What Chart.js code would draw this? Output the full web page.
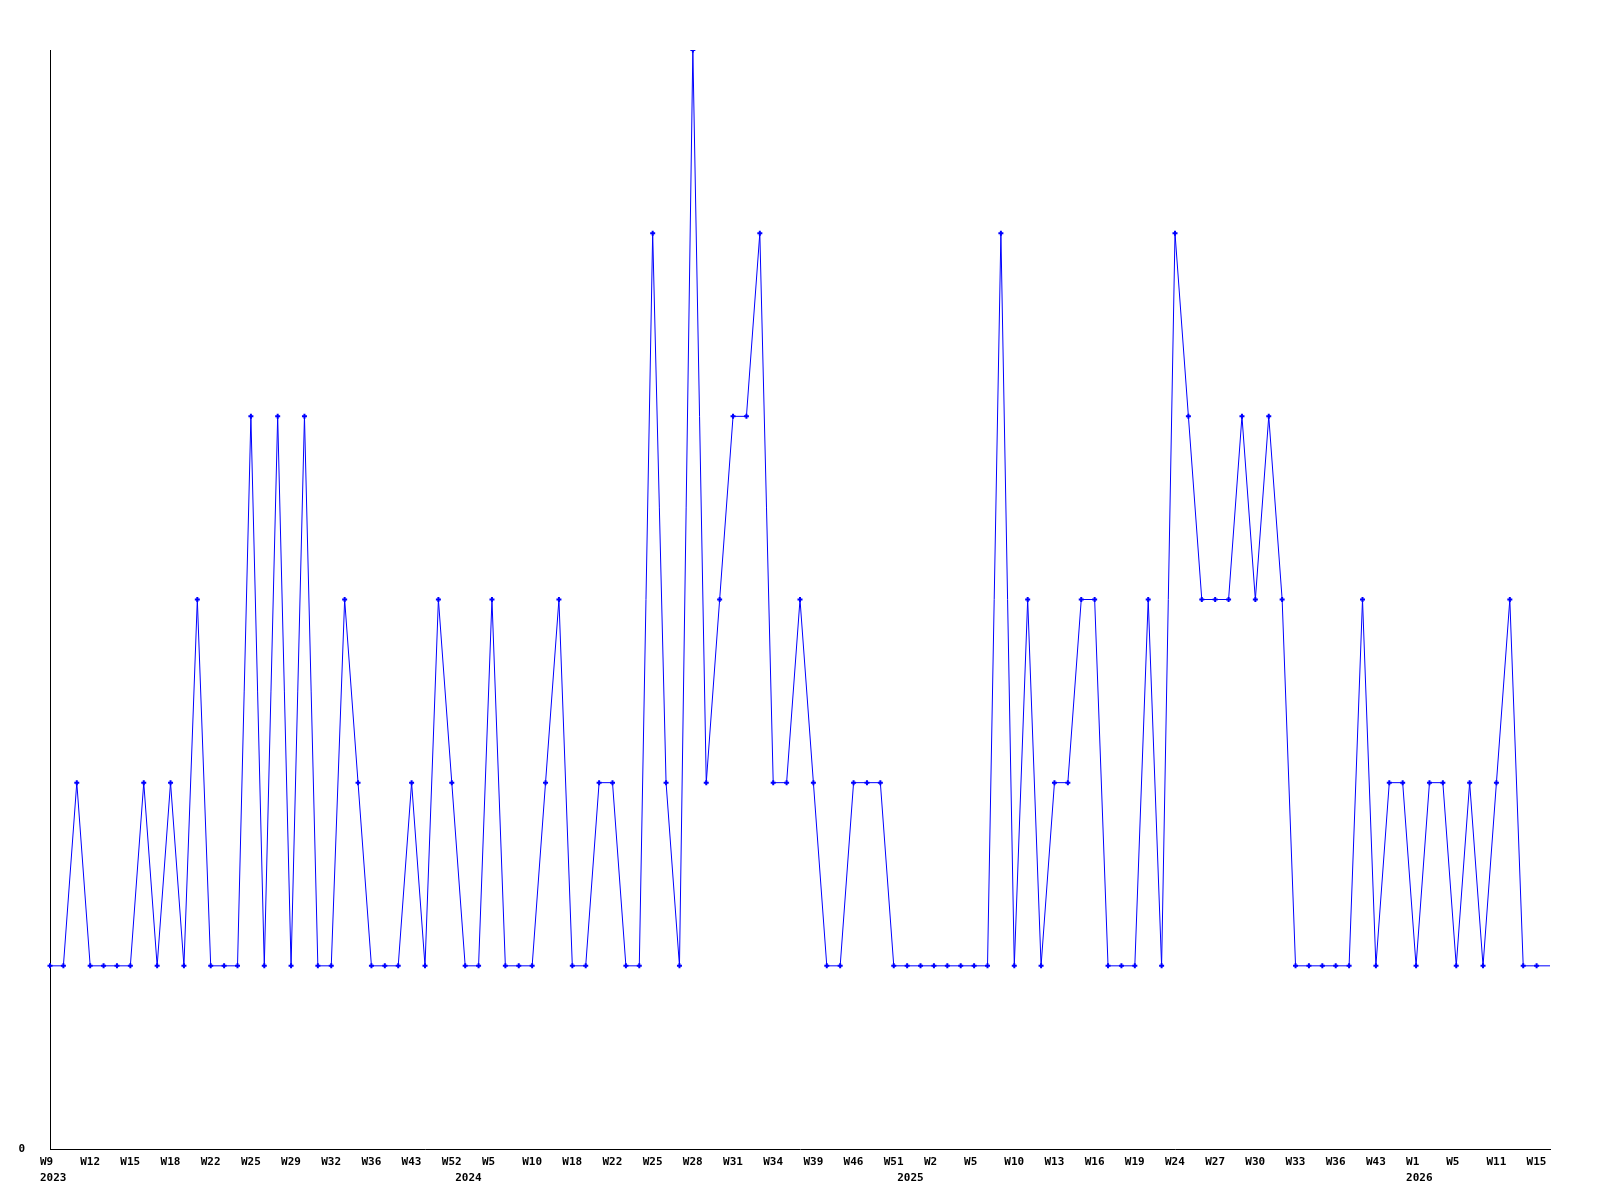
<!DOCTYPE html>
<html><head><meta charset="utf-8">
<script src="https://cdn.jsdelivr.net/npm/chart.js@4/dist/chart.umd.min.js"></script>
<style>html,body{margin:0;padding:0;background:#fff;} #wrap{width:1600px;height:1200px;}</style>
</head><body><div id="wrap"><canvas id="c" width="1600" height="1200"></canvas></div>
<script>
const weeks = [
  'W9','W10','W11','W12','W13','W14','W15','W16','W17','W18',
  'W19','W20','W22','W23','W24','W25','W26','W27','W29','W30',
  'W31','W32','W33','W34','W36','W38','W40','W43','W46','W49',
  'W52','W1','W3','W5','W7','W8','W10','W13','W15','W18',
  'W20','W21','W22','W23','W24','W25','W26','W27','W28','W29',
  'W30','W31','W32','W33','W34','W36','W37','W39','W41','W44',
  'W46','W48','W49','W51','W0','W1','W2','W3','W4','W5',
  'W7','W9','W10','W11','W12','W13','W14','W15','W16','W17',
  'W18','W19','W21','W23','W24','W25','W26','W27','W28','W29',
  'W30','W31','W32','W33','W34','W35','W36','W38','W40','W43',
  'W47','W50','W1','W2','W3','W5','W7','W9','W11','W12',
  'W13','W15','W16'
];
const values = [
  1,1,2,1,1,1,1,2,1,2,
  1,3,1,1,1,4,1,4,1,4,
  1,1,3,2,1,1,1,2,1,3,
  2,1,1,3,1,1,1,2,3,1,
  1,2,2,1,1,5,2,1,6,2,
  3,4,4,5,2,2,3,2,1,1,
  2,2,2,1,1,1,1,1,1,1,
  1,5,1,3,1,2,2,3,3,1,
  1,1,3,1,5,4,3,3,3,4,
  3,4,3,1,1,1,1,1,3,1,
  2,2,1,2,2,1,2,1,2,3,
  1,1,1
];
const yearLabels = ['2023','2024','2025','2026'];
const yearIndex = [0,31,64,102];
const yTickLabels = {0:'0'};

const FONT = '"DejaVu Sans Mono", "Liberation Mono", monospace';

const yearPlugin = {
  id: 'years',
  afterDraw(chart) {
    const xs = chart.scales.x;
    const ctx = chart.ctx;
    ctx.save();
    ctx.font = 'bold 11px ' + FONT;
    ctx.fillStyle = '#000';
    ctx.textAlign = 'left';
    ctx.textBaseline = 'middle';
    yearLabels.forEach((lab, k) => {
      const x = xs.getPixelForValue(yearIndex[k]) - 10;
      ctx.fillText(lab, x, xs.top + 29);
    });
    ctx.restore();
  }
};

new Chart(document.getElementById('c'), {
  type: 'line',
  data: {
    labels: weeks,
    datasets: [{
      data: values,
      borderColor: '#0000ff',
      backgroundColor: '#0000ff',
      borderWidth: 1,
      tension: 0,
      fill: false,
      pointStyle: 'cross',
      pointRadius: ctx => ctx.dataIndex === values.length - 1 ? 0 : 2.5,
      pointBorderWidth: 2,
      pointBorderColor: '#0000ff',
      pointHoverRadius: 3
    }]
  },
  options: {
    responsive: false,
    animation: false,
    layout: { padding: { top: 50, right: 50, left: 0, bottom: 0 } },
    plugins: { legend: { display: false }, tooltip: { enabled: false } },
    scales: {
      x: {
        offset: false,
        grid: { display: false, drawTicks: false },
        border: { display: true, color: '#000', width: 1 },
        ticks: {
          autoSkip: false, maxRotation: 0, minRotation: 0,
          align: 'start',
          padding: 7, labelOffset: -10,
          color: '#000',
          font: { family: FONT, size: 11, weight: 'bold' },
          callback: (v, i) => (i % 3 === 0 ? weeks[i] : '')
        },
        afterFit: s => { s.height = 51; }
      },
      y: {
        min: 0, max: 6,
        grid: { display: false, drawTicks: false },
        border: { display: true, color: '#000', width: 1 },
        ticks: {
          stepSize: 1, padding: 25, color: '#000',
          font: { family: FONT, size: 11, weight: 'bold' },
          callback: v => (yTickLabels[v] !== undefined ? yTickLabels[v] : '')
        },
        afterFit: s => { s.width = 50; }
      }
    }
  },
  plugins: [yearPlugin]
});
</script>
</body></html>
